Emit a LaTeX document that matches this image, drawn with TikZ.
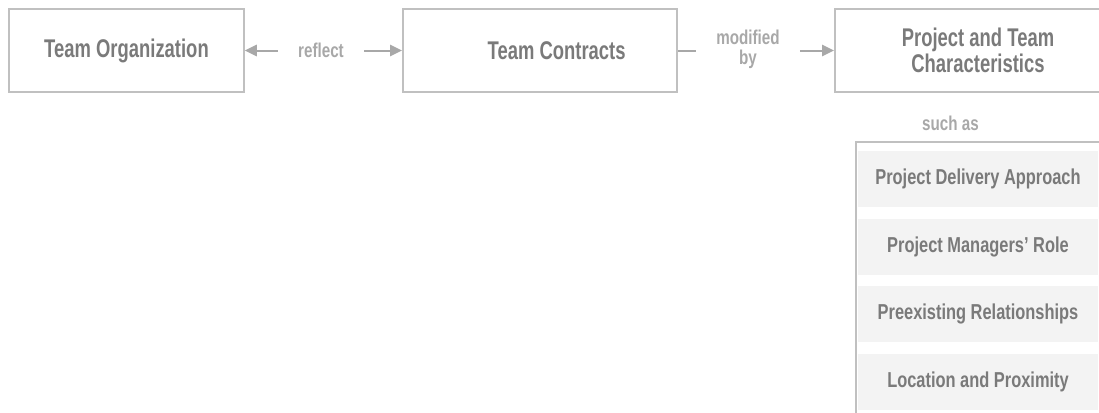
\documentclass[tikz,border=0pt]{standalone}
\usepackage{fontspec}
\usepackage{tikz}
\usetikzlibrary{arrows.meta,positioning}
\newfontfamily\condfont{Liberation Sans}[FakeStretch=0.72]
\newfontfamily\narrowfont{Liberation Sans}[FakeStretch=0.76]
\newcommand\boxfont{\condfont\bfseries\fontsize{19.2}{19}\selectfont}
\newcommand\itemfont{\narrowfont\bfseries\fontsize{16.2}{17}\selectfont}
\newcommand\wordfont{\narrowfont\bfseries\fontsize{15}{15}\selectfont}
\definecolor{Frame}{HTML}{C0C0C0}
\definecolor{Pale}{HTML}{F3F3F3}
\definecolor{Ink}{HTML}{7A7A7A}
\definecolor{Soft}{HTML}{A8A8A8}

\begin{document}
\begin{tikzpicture}[x=0.75pt,y=-0.75pt,
box/.style={draw=Frame,line width=1.5pt,minimum height=62pt,align=center,font=\boxfont,text=Ink},
word/.style={align=center,inner xsep=15pt,inner ysep=0pt,font=\wordfont,text=Soft},
item/.style={fill=Pale,minimum width=180pt,minimum height=42pt,font=\itemfont,text=Ink},
arr/.style={-{Triangle[length=9pt,width=8.5pt]},line width=1.5pt,draw=Soft}]
\useasboundingbox (0,0) rectangle (1099,412);
\clip (0,0) rectangle (1099,412);
\node[box,minimum width=176pt] (org) at (126.5,50.5) {Team Organization};
\node[box,minimum width=205.5pt] (contracts) at (540,50.5) {\hspace*{25pt}Team Contracts};
\node[box,minimum width=214.5pt] (traits) at (978,50.5) {Project and Team\\Characteristics};
\node[word] (reflect) at (321,50.5) {reflect};
\node[word] (modified) at (748,49) {modified\\by};
\node[word] (suchas) at (950.5,123) {such as};
% list of characteristics
\draw[draw=Frame,line width=1.5pt] (1120,142) -| (856,420);
\node[item] (delivery) at (978,179) {Project Delivery Approach};
\node[item,below=8.25pt of delivery] (managers) {Project Managers’ Role};
\node[item,below=8.25pt of managers] (relations) {Preexisting Relationships};
\node[item,below=8.25pt of relations] (location) {Location and Proximity};
\draw[arr] (reflect) -- (org);
\draw[arr] (reflect) -- (contracts);
\draw[line width=1.5pt,draw=Soft] (contracts) -- (modified.west|-contracts);
\draw[arr] (modified.east|-traits) -- (traits);
\end{tikzpicture}
\end{document}
